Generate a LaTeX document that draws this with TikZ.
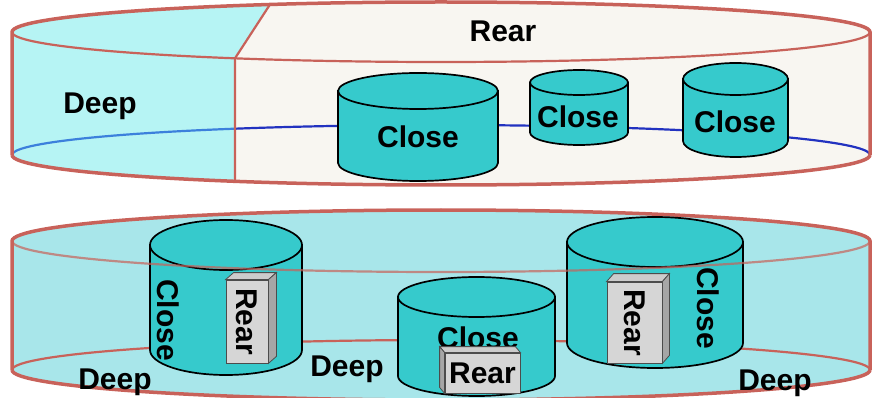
\documentclass[tikz,border=0pt]{standalone}
\usepackage{fontspec}
\setmainfont{Liberation Sans}
\usetikzlibrary{positioning}

\definecolor{rimred}{HTML}{C8625A}
\definecolor{rearfill}{HTML}{F8F6F1}
\definecolor{deepfill}{HTML}{B6F4F4}
\definecolor{ringfill}{HTML}{A8E6EA}
\definecolor{drumcyan}{HTML}{36CACC}
\definecolor{boxgray}{HTML}{D6D6D6}
\definecolor{farblue}{HTML}{2232C0}
\definecolor{nearblue}{HTML}{3C80DC}

\newcommand{\lblfont}{\fontsize{30}{30}\selectfont\bfseries}

% cylinder: centre x, x radius, top y, bottom y, y radius
\newcommand{\drum}[5]{%
  \filldraw[drum] ({#1-#2},#3) -- ({#1-#2},#4)
    arc[start angle=180, end angle=0, x radius=#2, y radius=#5]
    -- ({#1+#2},#3) -- cycle;
  \filldraw[drum] (#1,#3) ellipse[x radius=#2, y radius=#5];
}

\tikzset{
  rim/.style={draw=rimred, line width=3.5pt},
  drum/.style={fill=drumcyan, draw=black, line width=1.7pt},
  lbl/.style={font=\lblfont, inner sep=0pt},
  rearbox/.style={draw=black!70, fill=boxgray, line width=0.8pt,
    inner sep=0pt, font=\lblfont},
  boxside/.style={draw=black!70, fill=black!35, line width=0.8pt},
  boxtop/.style={draw=black!70, fill=black!20, line width=0.8pt},
}

\begin{document}
\begin{tikzpicture}[x=1pt, y=-1pt]
  \useasboundingbox (0,0) rectangle (875,398);

  % upper ring
  \fill[rearfill] (12,32) arc[start angle=180, end angle=360, x radius=429, y radius=30]
    -- (870,155) arc[start angle=0, end angle=180, x radius=429, y radius=30] -- cycle;
  \fill[deepfill] (270,4.5) arc[start angle=246.5, end angle=180, x radius=429, y radius=30]
    -- (12,155) arc[start angle=180, end angle=118.7, x radius=429, y radius=30]
    -- (235,58.3) -- cycle;
  \draw[nearblue, line width=2.2pt] (12,155)
    arc[start angle=180, end angle=241.3, x radius=429, y radius=30];
  \draw[farblue, line width=2.2pt] (235,128.7)
    arc[start angle=241.3, end angle=360, x radius=429, y radius=30];

  \drum{418}{80}{91}{163}{18}
  \drum{579}{49}{82.5}{132.5}{12.5}
  \drum{735.5}{52.5}{79}{141}{16}
  \node[lbl] (close1) at (418,137) {Close};
  \node[lbl] (close2) at (578,117) {Close};
  \node[lbl] (close3) at (735,122) {Close};

  \draw[rim] (12,155) -- (12,32)
    arc[start angle=180, end angle=360, x radius=429, y radius=30] -- (870,155);
  \draw[rim] (12,155) arc[start angle=180, end angle=0, x radius=429, y radius=30];
  \draw[rim, line width=2.2pt] (12,32) arc[start angle=180, end angle=0, x radius=429, y radius=30];
  \draw[rim, line width=2.2pt] (270,4.5) -- (235,58.3) -- (235,181.3);

  \node[lbl] (deeptop) at (100,106) {Deep};
  \node[lbl] (reartop) at (503,31) {Rear};

  % lower ring
  \fill[ringfill] (12,241) arc[start angle=180, end angle=360, x radius=429, y radius=31]
    -- (870,370) arc[start angle=0, end angle=180, x radius=429, y radius=30] -- cycle;
  \draw[rim] (12,370) -- (12,241)
    arc[start angle=180, end angle=360, x radius=429, y radius=31] -- (870,370);
  \draw[rim, line width=2.2pt] (12,370)
    arc[start angle=180, end angle=360, x radius=429, y radius=30];
  \draw[rim] (12,370) arc[start angle=180, end angle=0, x radius=429, y radius=30];

  \drum{226}{76}{245}{350}{25}
  \drum{476.5}{78.5}{297}{376}{20}
  \drum{655}{88}{242}{343}{25}

  \node[lbl, rotate=-90] (close4) at (168,320) {Close};
  \node[lbl] (close5) at (478,338) {Close};
  \node[lbl, rotate=-90] (close6) at (708,308) {Close};

  \node[rearbox, rotate=-90, minimum width=83, minimum height=42] (rear1) at (247,321.5) {Rear};
  \filldraw[boxtop] (rear1.south west) -- (rear1.north west) -- ++(8,-7)
    -- ([shift={(8,-7)}]rear1.south west) -- cycle;
  \filldraw[boxside] (rear1.north west) -- (rear1.north east) -- ++(8,-7)
    -- ([shift={(8,-7)}]rear1.north west) -- cycle;

  \node[rearbox, minimum width=75, minimum height=40] (rear2) at (482.5,373) {Rear};
  \filldraw[boxtop] (rear2.north west) -- (rear2.north east) -- ++(-5,-6)
    -- ([shift={(-5,-6)}]rear2.north west) -- cycle;
  \filldraw[boxside] (rear2.north west) -- (rear2.south west) -- ++(-5,-6)
    -- ([shift={(-5,-6)}]rear2.north west) -- cycle;

  \node[rearbox, rotate=-90, minimum width=81, minimum height=55] (rear3) at (634.5,322.5) {Rear};
  \filldraw[boxtop] (rear3.south west) -- (rear3.north west) -- ++(7,-8)
    -- ([shift={(7,-8)}]rear3.south west) -- cycle;
  \filldraw[boxside] (rear3.north west) -- (rear3.north east) -- ++(7,-8)
    -- ([shift={(7,-8)}]rear3.north west) -- cycle;

  % front rim passes over the drums
  \draw[rim, line width=2.2pt, opacity=.7] (12,241)
    arc[start angle=180, end angle=0, x radius=429, y radius=31];

  \node[lbl] (deep1) at (115,382) {Deep};
  \node[lbl] (deep2) at (347,369) {Deep};
  \node[lbl] (deep3) at (775,383) {Deep};
\end{tikzpicture}
\end{document}
